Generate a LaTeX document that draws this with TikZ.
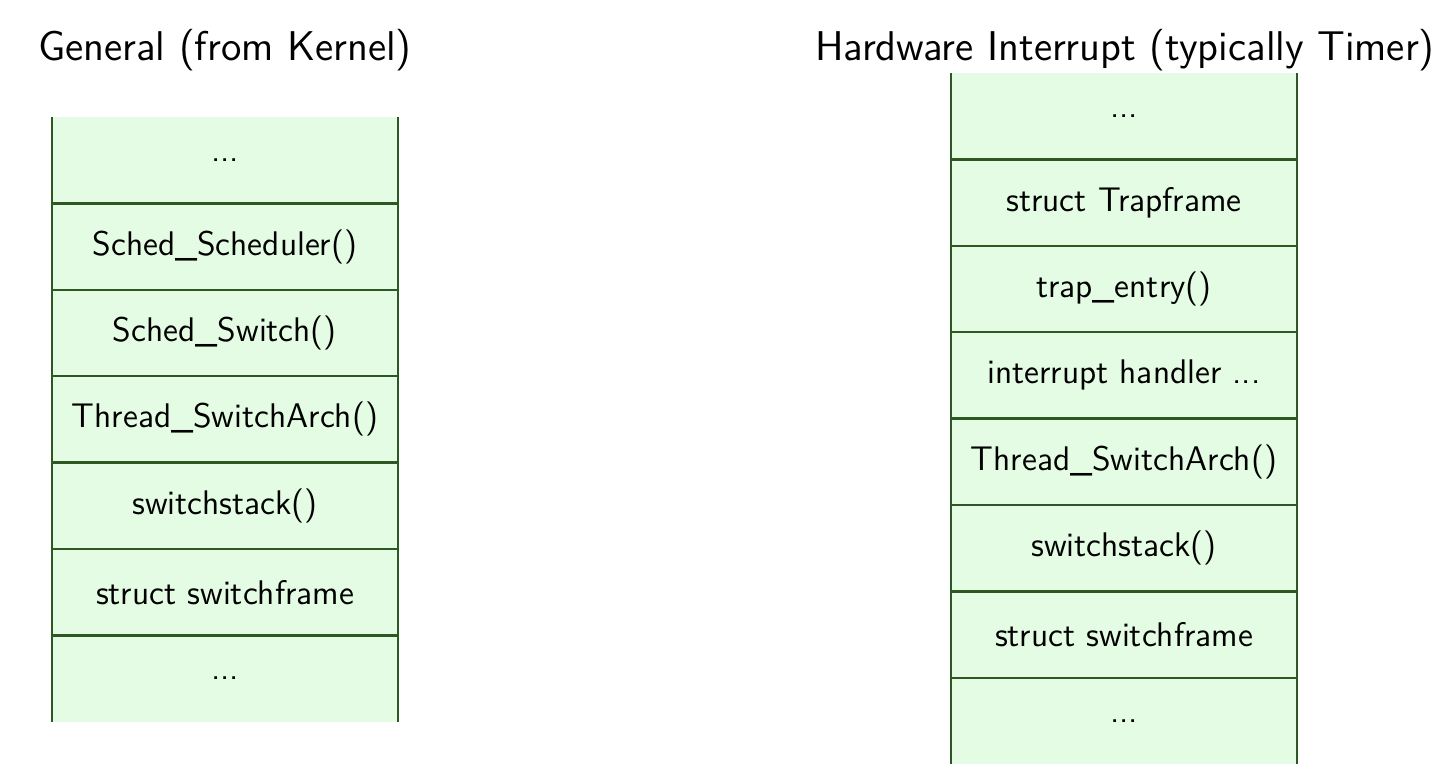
\documentclass[tikz,border=0pt]{standalone}
\usepackage{tikz}
\usetikzlibrary{positioning}
\definecolor{cellgreen}{RGB}{228,252,228}
\definecolor{edgegreen}{RGB}{45,88,35}

\begin{document}
\begin{tikzpicture}[
  node distance=0pt,
  cell/.style={rectangle, fill=cellgreen, inner sep=0pt, outer sep=0pt,
               minimum width=4cm, minimum height=1cm,
               font=\sffamily\fontsize{11.25}{13}\selectfont, align=center},
  title/.style={font=\sffamily\fontsize{13.7}{16}\selectfont},
  edge/.style={edgegreen, thick},
]
  \useasboundingbox (0,0) rectangle (16.713,-9.005);

  % general path (left)
  \node[title] (gentitle) at (2.604,-0.575) {General (from Kernel)};
  \node[cell, anchor=north] (g1) at (2.604,-1.354) {...};
  \node[cell, below=of g1] (g2) {Sched\_Scheduler()};
  \node[cell, below=of g2] (g3) {Sched\_Switch()};
  \node[cell, below=of g3] (g4) {Thread\_SwitchArch()};
  \node[cell, below=of g4] (g5) {switchstack()};
  \node[cell, below=of g5] (g6) {struct switchframe};
  \node[cell, below=of g6] (g7) {...};

  \draw[edge] (g1.north west) -- (g7.south west);
  \draw[edge] (g1.north east) -- (g7.south east);
  \foreach \i in {1,...,6}
    \draw[edge] (g\i.south west) -- (g\i.south east);

  % hardware interrupt path (right)
  \node[title] (hwtitle) at (13.02,-0.575) {Hardware Interrupt (typically Timer)};
  \node[cell, anchor=north] (h1) at (13.009,-0.845) {...};
  \node[cell, below=of h1] (h2) {struct Trapframe};
  \node[cell, below=of h2] (h3) {trap\_entry()};
  \node[cell, below=of h3] (h4) {interrupt handler ...};
  \node[cell, below=of h4] (h5) {Thread\_SwitchArch()};
  \node[cell, below=of h5] (h6) {switchstack()};
  \node[cell, below=of h6] (h7) {struct switchframe};
  \node[cell, below=of h7] (h8) {...};

  \draw[edge] (h1.north west) -- (h8.south west);
  \draw[edge] (h1.north east) -- (h8.south east);
  \foreach \i in {1,...,7}
    \draw[edge] (h\i.south west) -- (h\i.south east);
\end{tikzpicture}
\end{document}
